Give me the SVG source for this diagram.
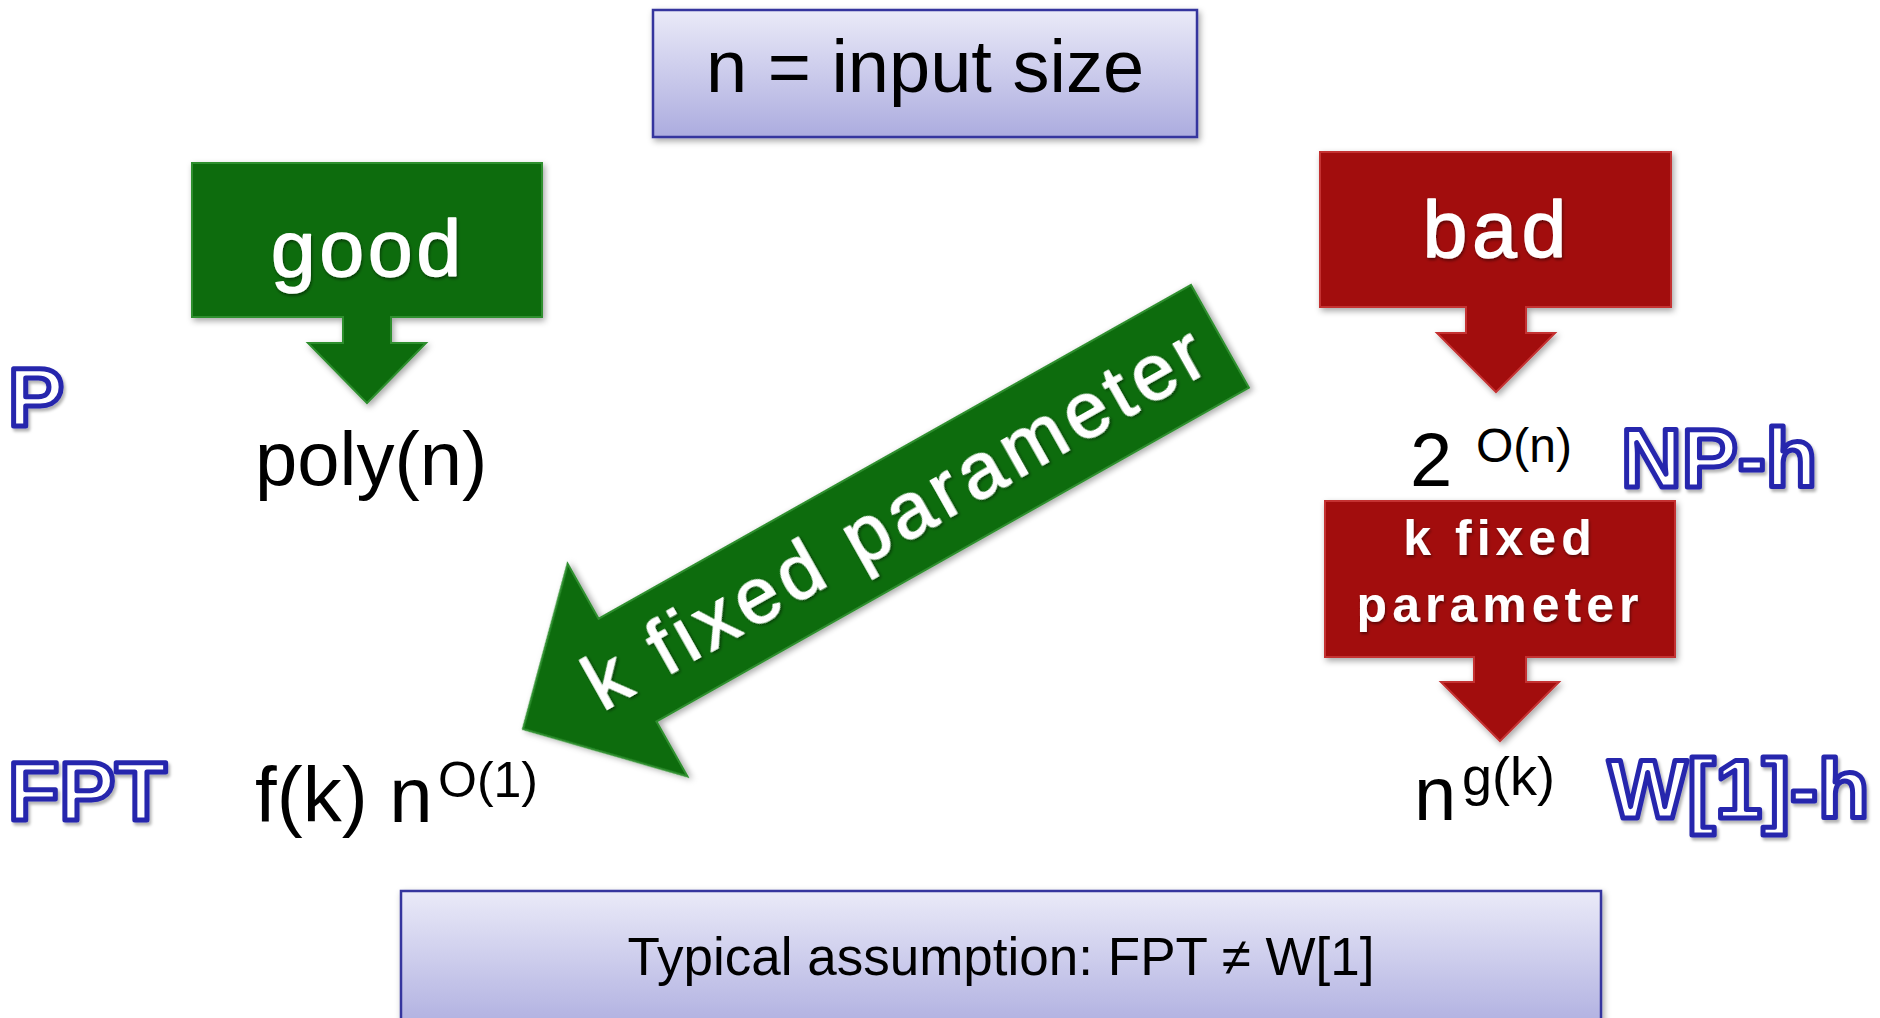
<svg xmlns="http://www.w3.org/2000/svg" width="1880" height="1018" viewBox="0 0 1880 1018">
<defs>
<linearGradient id="boxGrad" x1="0" y1="0" x2="0" y2="1">
<stop offset="0" stop-color="#eaeaf8"/>
<stop offset="1" stop-color="#acacdf"/>
</linearGradient>
<linearGradient id="boxGrad2" x1="0" y1="0" x2="0" y2="1">
<stop offset="0" stop-color="#eaeaf8"/>
<stop offset="1" stop-color="#acacdf"/>
</linearGradient>
<filter id="shadow" x="-10%" y="-10%" width="130%" height="140%">
<feDropShadow dx="2" dy="3" stdDeviation="3" flood-color="#000" flood-opacity="0.35"/>
</filter>
<filter id="tshadow" x="-10%" y="-20%" width="120%" height="150%">
<feDropShadow dx="1" dy="2" stdDeviation="1.5" flood-color="#000" flood-opacity="0.45"/>
</filter>
<filter id="oshadow" x="-10%" y="-20%" width="130%" height="150%">
<feDropShadow dx="2" dy="3" stdDeviation="1.5" flood-color="#000" flood-opacity="0.3"/>
</filter>
</defs>
<style>
.blk{font-family:"Liberation Sans",Arial,sans-serif;fill:#000;}
.wht{font-family:"Liberation Sans",Arial,sans-serif;fill:#fff;stroke:#fff;stroke-width:1.6;stroke-linejoin:round;filter:url(#tshadow);}
.whtb{font-family:"Liberation Sans",Arial,sans-serif;font-weight:bold;fill:#fff;filter:url(#tshadow);}
.out{font-family:"Liberation Sans",Arial,sans-serif;font-weight:bold;font-size:84px;fill:#fff;stroke:#2626ad;stroke-width:5;stroke-linejoin:round;filter:url(#oshadow);}
.green{fill:#0b6c0d;stroke:#2f8f2f;stroke-width:2;filter:url(#shadow);}
.red{fill:#a20808;stroke:#c43030;stroke-width:2;filter:url(#shadow);}
.lav{stroke:#34349e;stroke-width:2.5;filter:url(#shadow);}
</style>
<rect width="1880" height="1018" fill="#fff"/>

<g id="input-size">
<rect class="lav" x="653" y="10" width="544" height="127" fill="url(#boxGrad)"/>
<text class="blk" x="925" y="92" font-size="74" text-anchor="middle">n = input size</text>
</g>

<g id="good">
<path class="green" d="M192,163 H542 V317 H391 V343 H426 L367,403 L308,343 H343 V317 H192 Z"/>
<text class="wht" x="368" y="276" font-size="80" letter-spacing="4" text-anchor="middle">good</text>
</g>

<g id="bad">
<path class="red" d="M1320,152 H1671 V307 H1526 V333 H1555 L1496,392 L1437,333 H1466 V307 H1320 Z"/>
<text class="wht" x="1497" y="257" font-size="80" letter-spacing="5" text-anchor="middle">bad</text>
</g>

<g id="k-fixed-red">
<path class="red" d="M1325,501 H1675 V657 H1526 V682 H1559 L1500,741 L1441,682 H1474 V657 H1325 Z"/>
<text class="whtb" x="1500" y="555" font-size="50" letter-spacing="5" text-anchor="middle">k fixed</text>
<text class="whtb" x="1500" y="622" font-size="50" letter-spacing="5" text-anchor="middle">parameter</text>
</g>

<g id="label-P"><text class="out" x="8" y="426">P</text></g>
<g id="label-FPT"><text class="out" x="8" y="820">FPT</text></g>
<g id="label-NPh"><text class="out" x="1621" y="487">NP-h</text></g>
<g id="label-W1h"><text class="out" x="1608" y="818">W[1]-h</text></g>

<g id="poly"><text class="blk" x="255" y="485" font-size="76">poly(n)</text></g>
<g id="fpt-time">
<text class="blk" x="255" y="822" font-size="78">f(k) n</text>
<text class="blk" x="438" y="797" font-size="50">O(1)</text>
</g>
<g id="exp-time">
<text class="blk" x="1410" y="486" font-size="76">2</text>
<text class="blk" x="1476" y="462" font-size="48">O(n)</text>
</g>
<g id="xp-time">
<text class="blk" x="1414" y="820" font-size="76">n</text>
<text class="blk" x="1462" y="795" font-size="54">g(k)</text>
</g>

<g id="assumption">
<rect class="lav" x="401" y="891" width="1200" height="145" fill="url(#boxGrad2)"/>
<text class="blk" x="1001" y="975" font-size="53" text-anchor="middle">Typical assumption: FPT ≠ W[1]</text>
</g>

<g id="connectors">
<g transform="translate(523,729) rotate(-29.4)">
<path class="green" d="M0,0 L120,-122 L120,-59 L800,-59 L800,59 L120,59 L120,122 Z"/>
<text class="wht" x="430" y="25" font-size="78" letter-spacing="6" text-anchor="middle">k fixed parameter</text>
</g>
</g>
</svg>
